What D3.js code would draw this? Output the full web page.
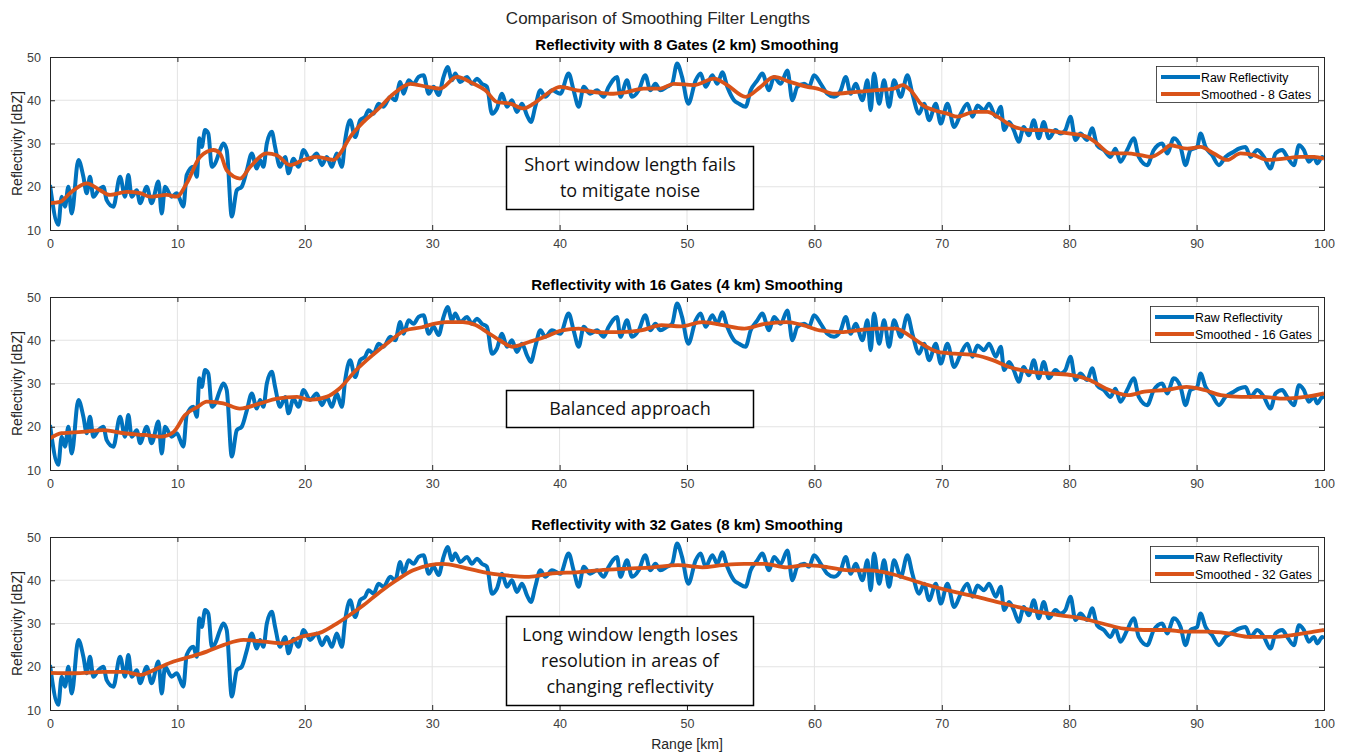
<!DOCTYPE html>
<html>
<head>
<meta charset="utf-8">
<script src="https://cdn.jsdelivr.net/npm/d3@7"></script>
<style>
  body { margin: 0; background: #fff; }
  svg { display: block; font-family: "Liberation Sans", Arial, sans-serif; }
</style>
</head>
<body>
<div id="chart"></div>
<script>
// raw reflectivity as [range km, dBZ]
const rawRange = [0, 0.65, 0.92, 1.18, 1.44, 1.7, 2.23, 2.62, 2.88, 3.14, 3.4, 3.8, 4.19, 4.45, 4.97, 5.5, 5.89, 6.15, 6.41, 6.81, 7.07, 7.59, 7.98, 8.51, 8.77, 9.03, 9.55, 9.95,
  10.47, 10.73, 11.26, 11.52, 11.73, 11.91, 12.17, 12.43, 12.7, 12.96, 13.35, 13.61, 13.87, 14.27, 14.66, 15.05, 15.45, 15.84, 16.23, 16.49, 16.75, 17.02, 17.41, 17.67, 18.06, 18.46, 18.72, 19.11, 19.5, 19.9,
  20.42, 20.94, 21.34, 21.73, 22.12, 22.51, 22.91, 23.17, 23.56, 23.95, 24.35, 24.74, 25.0, 25.4, 25.79, 26.18, 26.71, 27.1, 27.49, 27.75, 28.15, 28.54, 28.93, 29.32, 29.72,
  30.11, 30.5, 30.89, 31.21, 31.55, 31.81, 32.2, 32.73, 33.12, 33.51, 33.9, 34.3, 34.69, 35.08, 35.48, 35.87, 36.26, 36.65, 37.05, 37.44, 37.75, 38.09, 38.49, 38.88, 39.4,
  40.06, 40.71, 41.1, 41.5, 41.89, 42.41, 42.94, 43.46, 43.85, 44.51, 44.77, 45.29, 45.68, 46.21, 46.73, 47.12, 47.52, 47.91, 48.43, 48.83, 49.22, 49.61,
  50.1, 50.68, 51.07, 51.46, 51.99, 52.38, 52.77, 53.16, 53.69, 54.08, 54.6, 55.0, 55.52, 55.91, 56.44, 56.83, 57.35, 57.88, 58.27, 58.66, 59.19, 59.58, 59.97,
  60.5, 61.02, 61.54, 62.07, 62.46, 62.85, 63.24, 63.77, 64.16, 64.42, 64.68, 65.08, 65.47, 65.86, 66.25, 66.78, 67.3, 67.69, 68.22, 68.61, 69.0, 69.53, 69.92,
  70.44, 70.97, 71.49, 72.01, 72.41, 72.8, 73.32, 73.71, 74.24, 74.63, 74.89, 75.29, 75.65, 76.04, 76.43, 76.83, 77.22, 77.61, 78.0, 78.4, 78.92, 79.31, 79.7,
  80.1, 80.49, 80.88, 81.41, 81.8, 82.19, 82.72, 83.24, 83.63, 84.02, 84.55, 85.07, 85.46, 86.12, 86.64, 87.3, 87.69, 88.21, 88.74, 89.13, 89.52,
  90.04, 90.31, 90.7, 91.22, 91.75, 92.27, 92.92, 93.32, 93.84, 94.23, 94.76, 95.28, 95.8, 96.2, 96.72, 97.11, 97.64, 98.03, 98.42, 98.81, 99.21, 99.47, 99.86, 100];
const rawDbz = [20.4, 11.2, 17.7, 15.4, 20, 13.8, 26.2, 22.3, 18.5, 22.3, 17.7, 19.2, 20, 16.9, 15.4, 22.3, 17.7, 22.7, 17.7, 19.2, 16.2, 20, 16.2, 21.2, 13.8, 20, 17.7, 18.5,
  15.4, 22.7, 24.6, 22.3, 31.2, 29.2, 33.1, 32.3, 24.6, 25.4, 28.5, 30, 28.5, 13.1, 19.2, 20, 23.8, 27.7, 24.2, 26.2, 24.6, 30, 32.7, 29.2, 24.6, 26.9, 23.1, 26.5, 24.6, 28.5,
  26.2, 27.7, 25, 26.9, 24.6, 27.7, 24.6, 30.8, 35.4, 31.5, 35.4, 36.2, 37.7, 36.9, 39.2, 38.5, 40.8, 40, 44.2, 41.5, 44.6, 43.8, 45.4, 45.8, 41.5,
  43.1, 41.2, 45.4, 47.7, 44.6, 46.2, 44.2, 45.4, 43.8, 45, 43.8, 43.1, 36.9, 38.1, 41.5, 38.5, 40, 37.3, 39.2, 36.5, 35, 38.5, 42.3, 40.8, 42.3,
  41.5, 46.2, 42.3, 38.5, 43.1, 41.5, 42.3, 40.8, 43.1, 45.4, 40.8, 44.6, 40.8, 42.3, 45.8, 42.3, 43.8, 42.3, 43.1, 43.8, 48.5, 45.4,
  39.2, 44.6, 46.2, 43.1, 45.8, 43.8, 46.5, 43.1, 40, 39.2, 38.5, 42.3, 44.6, 46.2, 42.3, 45.4, 43.8, 46.9, 40, 43.1, 43.8, 43.1, 45.8,
  43.8, 41.5, 40.8, 42.3, 45.4, 41.5, 43.8, 40, 44.6, 37.7, 46.2, 39.2, 44.6, 38.5, 44.6, 40.8, 45.8, 41.5, 36.9, 39.2, 35.4, 39.2, 34.6,
  39.2, 33.8, 36.9, 39.2, 36.2, 38.8, 37.7, 39.2, 36.2, 38.5, 33.1, 35, 33.1, 30.4, 33.8, 31.9, 35.4, 31.2, 35, 31.2, 33.1, 32.3, 33.1,
  36.2, 30.8, 32.3, 30.8, 33.5, 29.6, 28.5, 26.9, 28.8, 25.8, 28.5, 31.2, 26.9, 25, 28.5, 30, 27.7, 31.2, 29.2, 25, 28.5,
  29.2, 32.3, 29.2, 27.3, 25, 26.9, 28.1, 28.8, 29.2, 26.9, 28.5, 26.9, 24.2, 27.7, 28.5, 26.9, 25, 29.6, 28.5, 25.8, 26.9, 25.4, 26.9, 26.5];

// 8 gate moving average
const smooth8Range = [0, 0.79, 1.57, 2.88, 3.93, 4.71, 6.02, 7.07, 7.85, 9.16, 9.95, 10.73, 11.78, 12.83, 13.35, 13.87, 14.92, 15.71, 17.02, 17.8, 18.85, 19.9,
  20.94, 22.25, 22.77, 23.56, 24.61, 25.66, 26.97, 28.28, 29.59, 30.63, 31.94, 33.25, 34.17, 35.08, 36.13, 37.18, 37.96, 39.01, 40.06, 41.37, 42.68, 43.98, 45.29, 46.6, 47.91, 48.96,
  50.55, 52.12, 53.16, 54.6, 55.78, 56.83, 58.14, 59.45, 60.23, 61.54, 63.11, 64.68, 66.25, 66.91, 67.56, 68.35, 69.4, 70.44, 71.23, 72.54, 73.58, 74.37, 75.42,
  76.96, 78.0, 79.05, 80.1, 81.41, 82.19, 83.24, 84.55, 85.6, 86.38, 87.43, 87.95, 89.26, 90.31, 91.35, 92.4, 93.45, 94.5, 95.54, 96.85, 98.16, 99.21, 100];
const smooth8Dbz = [16.2, 16.5, 18.5, 20.8, 19.2, 18.1, 18.8, 18.5, 17.7, 18.1, 17.7, 20.8, 26.9, 28.5, 27.7, 23.8, 21.9, 24.6, 27.7, 27.3, 25, 26.2,
  26.9, 26.2, 27.7, 31.5, 35, 37.7, 41.5, 43.8, 43.1, 42.7, 45.4, 43.8, 42.3, 39.6, 39.2, 38.1, 39.2, 41.5, 43.1, 42.3, 41.9, 41.5, 41.9, 42.7, 42.7, 43.8,
  43.5, 45, 43.5, 40.8, 43.1, 45.4, 44.2, 43.1, 42.7, 41.5, 41.9, 42.3, 42.7, 43.5, 42.3, 39.2, 37.7, 36.9, 36.2, 37.3, 37.3, 36.2, 34.2,
  33.1, 33.1, 32.7, 32.3, 31.5, 30, 27.7, 27.7, 27.3, 26.9, 28.5, 29.6, 28.8, 29.2, 27.7, 26.2, 27.7, 27.3, 26.2, 26.5, 26.9, 26.9, 26.5];

// 16 gate moving average
const smooth16Range = [0, 0.9, 2.5, 4.2, 5.8, 7.4, 8.7, 9.7, 10.6, 11.6, 12.3, 13.6, 14.9, 16.5, 17.8, 19.4, 20.4, 21.7, 22.7, 24, 25.3, 26.6, 27.9, 29.2,
  30.1, 31.1, 32.4, 33.4, 34.3, 35.3, 36.3, 37.6, 38.9, 40.2, 41.5, 43.1, 44.7, 46.4, 48, 49.5, 51.2, 52.8, 54.5, 56.1, 57.8, 59.1,
  60.4, 62.1, 63.4, 65, 66.4, 67.4, 68.4, 69.7, 71, 72.7, 74, 75.3, 77, 78.6, 80.3, 81.6, 82.9, 84.6, 85.9, 87.6, 89.2, 90.6, 91.9, 93.5, 95.2, 96.9, 98.5, 100];
const smooth16Dbz = [17.3, 18.5, 18.8, 19.2, 18.5, 18.1, 17.7, 18.8, 22.7, 24.6, 25.8, 25.4, 24.2, 25.4, 26.5, 26.9, 26.2, 26.9, 28.8, 33, 36.5, 39.6, 42.3, 43,
  43.8, 44.2, 44.2, 43.5, 41.9, 40, 38.5, 39.6, 40.8, 42.3, 42.7, 41.9, 41.9, 42.3, 43.5, 43.2, 44.2, 43.5, 42.7, 43.8, 44.2, 43.5,
  42.3, 41.9, 42.3, 42.7, 42.7, 41.2, 39.2, 37.3, 36.9, 36.5, 35.4, 33.8, 32.7, 32.3, 31.9, 30.8, 28.8, 27.3, 28.1, 28.5, 29.2, 28.5, 27.3, 26.9, 26.9, 26.5, 26.9, 27.7];

// 32 gate moving average
const smooth32Range = [0, 1.9, 4.2, 5.8, 7.1, 8.4, 9.7, 11, 12.3, 13.6, 15.2, 16.8, 18.4, 19.7, 21.4, 22.3, 23.3, 24.6, 25.9, 27.2, 28.5, 29.8,
  30.8, 32.4, 34, 35.6, 37.6, 39.2, 41.5, 43.1, 45.4, 47.3, 49.3, 51.2, 52.8, 54.5, 56.1, 57.8, 59.4,
  61.1, 62.7, 64.4, 66, 67.7, 69.4, 71, 72.7, 74.3, 76, 77.6, 79.3, 81, 82.6, 84.3, 85.9, 87.6, 89.2, 90.9, 92.5, 94.2, 95.9, 97.5, 99.2, 100];
const smooth32Dbz = [18.6, 18.5, 18.8, 18.8, 18.1, 19.6, 21.2, 22.3, 23.5, 25, 26.2, 25.8, 25.4, 26.9, 28.1, 29.6, 31.5, 34.2, 37.3, 40, 42.3, 43.5,
  43.8, 43, 41.9, 41.2, 40.8, 41.5, 41.9, 42.3, 42.7, 43, 43.5, 43, 43.5, 43.8, 43.8, 43, 43.5,
  43, 42.3, 42.3, 41.5, 40, 38.5, 37.3, 36.2, 35, 33.8, 32.7, 31.9, 31.2, 30, 28.8, 28.5, 28.5, 28.1, 28.1, 27.7, 26.9, 26.9, 27.3, 28.1, 28.5];

const xTicks = [0, 10, 20, 30, 40, 50, 60, 70, 80, 90, 100];
const yTicks = [10, 20, 30, 40, 50];

const panelTitles = ['Reflectivity with 8 Gates (2 km) Smoothing', 'Reflectivity with 16 Gates (4 km) Smoothing', 'Reflectivity with 32 Gates (8 km) Smoothing'];
const legendLabels = ['Smoothed - 8 Gates', 'Smoothed - 16 Gates', 'Smoothed - 32 Gates'];
const notes = [['Short window length fails', 'to mitigate noise'], ['Balanced approach'], ['Long window length loses', 'resolution in areas of', 'changing reflectivity']];
const smoothRanges = [smooth8Range, smooth16Range, smooth32Range];
const smoothValues = [smooth8Dbz, smooth16Dbz, smooth32Dbz];

const width = 1349;
const height = 754;
const left = 50, right = 1324;
const tops = [57, 297, 537];
const ph = 173;
// note boxes: [top offset inside panel, height]
const noteBoxes = [[89, 63], [93, 37], [79, 89]];
const legendW = [162, 168, 168];

const blue = '#0072BD';
const orange = '#D95319';
const axisColor = '#262626';

const svg = d3.select('#chart')
  .append('svg')
  .attr('width', width)
  .attr('height', height);

svg.append('text')
  .attr('x', 658)
  .attr('y', 24)
  .attr('text-anchor', 'middle')
  .attr('font-size', '17px')
  .attr('fill', axisColor)
  .text('Comparison of Smoothing Filter Lengths');

const x = d3.scaleLinear().domain([0, 100]).range([left, right]);

tops.forEach((top, p) => {
  const y = d3.scaleLinear().domain([10, 50]).range([top + ph, top]);
  const g = svg.append('g');

  // grid
  g.append('g')
    .selectAll('line')
    .data(xTicks.slice(1, -1))
    .join('line')
    .attr('x1', d => x(d)).attr('x2', d => x(d))
    .attr('y1', top).attr('y2', top + ph)
    .attr('stroke', '#e3e3e3');
  g.append('g')
    .selectAll('line')
    .data(yTicks.slice(1, -1))
    .join('line')
    .attr('x1', left).attr('x2', right)
    .attr('y1', d => y(d)).attr('y2', d => y(d))
    .attr('stroke', '#e3e3e3');

  const line = d3.line()
    .x(d => x(d[0]))
    .y(d => y(d[1]))
    .curve(d3.curveMonotoneX);

  const clipId = 'clip' + p;
  g.append('clipPath').attr('id', clipId)
    .append('rect')
    .attr('x', left).attr('y', top - 2)
    .attr('width', right - left).attr('height', ph + 4);

  g.append('path')
    .datum(rawRange.map((r, i) => [r, rawDbz[i]]))
    .attr('clip-path', `url(#${clipId})`)
    .attr('fill', 'none')
    .attr('stroke', blue)
    .attr('stroke-width', 4)
    .attr('stroke-linejoin', 'round')
    .attr('d', line);

  g.append('path')
    .datum(smoothRanges[p].map((r, i) => [r, smoothValues[p][i]]))
    .attr('clip-path', `url(#${clipId})`)
    .attr('fill', 'none')
    .attr('stroke', orange)
    .attr('stroke-width', 3.8)
    .attr('stroke-linejoin', 'round')
    .attr('d', line);

  // axes, ticks inward on all four sides
  const xAxis = (g) => {
    g.attr('transform', `translate(0,${top + ph})`)
      .call(d3.axisBottom(x).tickValues(xTicks).tickSize(-5).tickPadding(9).tickFormat(d3.format('d')));
  };
  const xTop = (g) => {
    g.attr('transform', `translate(0,${top})`)
      .call(d3.axisTop(x).tickValues(xTicks).tickSize(-5).tickFormat(''));
  };
  const yAxis = (g) => {
    g.attr('transform', `translate(${left},0)`)
      .call(d3.axisLeft(y).tickValues(yTicks).tickSize(-5).tickPadding(9));
  };
  const yRight = (g) => {
    g.attr('transform', `translate(${right},0)`)
      .call(d3.axisRight(y).tickValues(yTicks).tickSize(-5).tickFormat(''));
  };
  [xAxis, xTop, yAxis, yRight].forEach(a => {
    const ag = g.append('g').call(a);
    ag.selectAll('path,line').attr('stroke', axisColor).attr('stroke-width', 1);
    ag.selectAll('text').attr('fill', '#404040').attr('font-size', '12.5px')
      .attr('font-family', '"Liberation Sans", Arial, sans-serif');
  });

  g.append('text')
    .attr('x', (left + right) / 2)
    .attr('y', top - 7)
    .attr('text-anchor', 'middle')
    .attr('font-weight', 'bold')
    .attr('font-size', '15px')
    .attr('fill', '#000')
    .text(panelTitles[p]);

  g.append('text')
    .attr('transform', `translate(22,${top + ph / 2}) rotate(-90)`)
    .attr('text-anchor', 'middle')
    .attr('font-size', '14px')
    .attr('fill', axisColor)
    .text('Reflectivity [dBZ]');

  // note box
  const nb = noteBoxes[p];
  g.append('rect')
    .attr('x', 506.5).attr('y', top + nb[0] + 0.5)
    .attr('width', 247).attr('height', nb[1])
    .attr('fill', '#fff')
    .attr('stroke', '#000')
    .attr('stroke-width', 1.5);
  const nl = notes[p];
  nl.forEach((t, i) => {
    g.append('text')
      .attr('x', 630)
      .attr('y', top + nb[0] + nb[1] / 2 + (i - (nl.length - 1) / 2) * 26 + 6.5)
      .attr('text-anchor', 'middle')
      .attr('font-family', '"Open Sans", "Noto Sans", sans-serif')
      .attr('font-size', '18px')
      .attr('fill', '#111')
      .text(t);
  });

  // legend
  const lw = legendW[p];
  const lx = right - 6 - lw;
  const ly = top + 9;
  const lg = g.append('g').attr('transform', `translate(${lx},${ly})`);
  lg.append('rect')
    .attr('x', 0.5).attr('y', 0.5)
    .attr('width', lw).attr('height', 36)
    .attr('fill', '#fff')
    .attr('stroke', axisColor)
    .attr('stroke-width', 0.8);
  [['Raw Reflectivity', blue], [legendLabels[p], orange]].forEach((d, i) => {
    const yy = 11 + i * 17;
    lg.append('line')
      .attr('x1', 5).attr('x2', 44)
      .attr('y1', yy).attr('y2', yy)
      .attr('stroke', d[1])
      .attr('stroke-width', 4);
    lg.append('text')
      .attr('x', 45)
      .attr('y', yy + 4.5)
      .attr('font-size', '12.3px')
      .attr('fill', '#000')
      .text(d[0]);
  });
});

svg.append('text')
  .attr('x', (left + right) / 2)
  .attr('y', 749)
  .attr('text-anchor', 'middle')
  .attr('font-size', '14px')
  .attr('fill', axisColor)
  .text('Range [km]');
</script>
</body>
</html>
